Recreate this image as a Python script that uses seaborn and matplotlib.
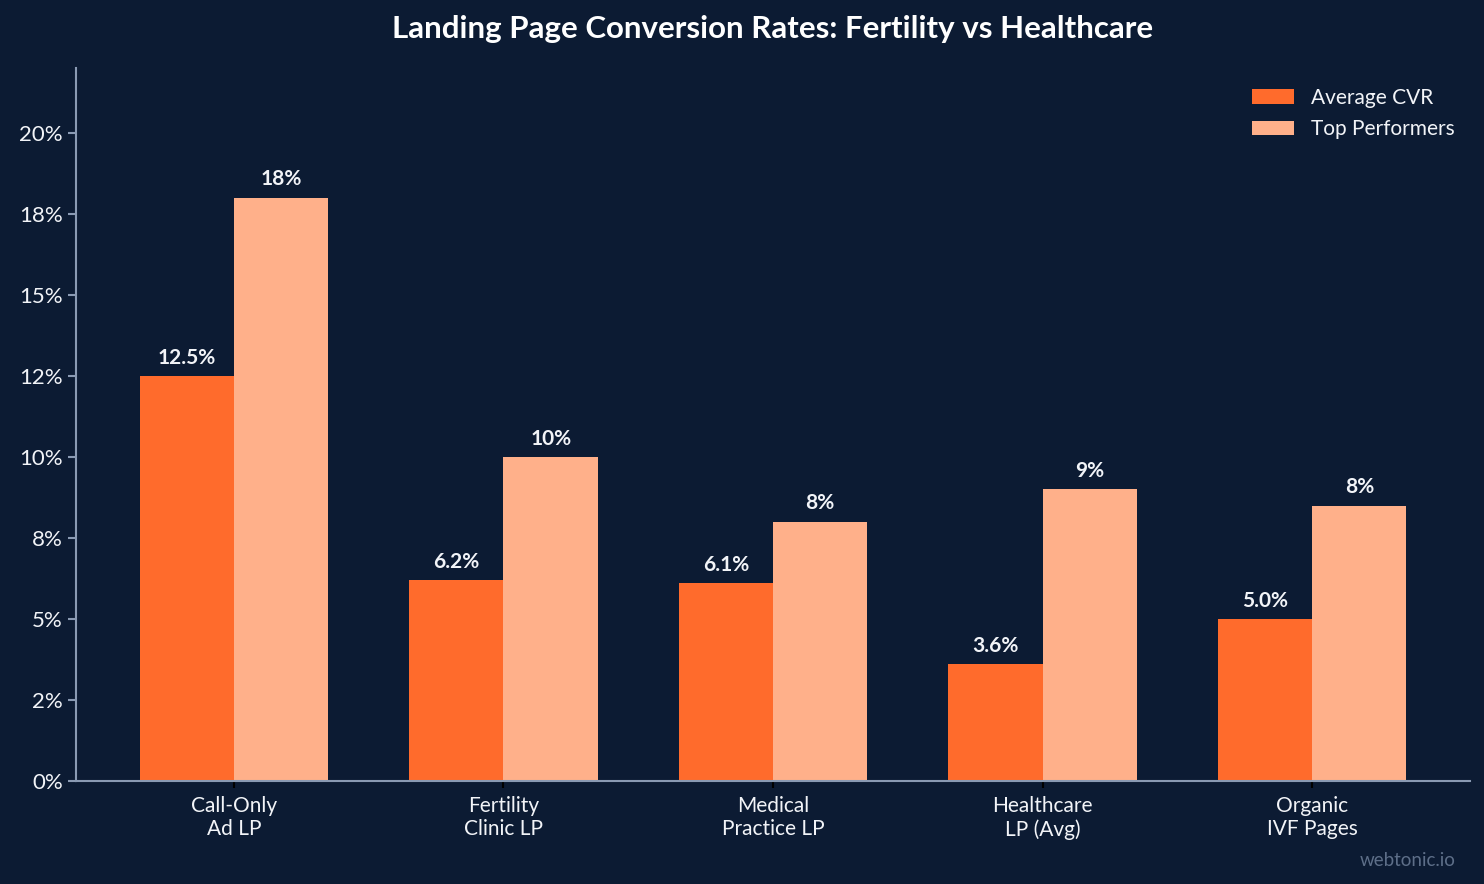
import numpy as np
import pandas as pd
import matplotlib
matplotlib.use("Agg")
import matplotlib.pyplot as plt
import seaborn as sns

# datos
categories = ["Call-Only\nAd LP", "Fertility\nClinic LP", "Medical\nPractice LP",
              "Healthcare\nLP (Avg)", "Organic\nIVF Pages"]
average_cvr = [12.5, 6.2, 6.1, 3.6, 5.0]
top_performers = [18.0, 10.0, 8.0, 9.0, 8.5]
series_names = ["Average CVR", "Top Performers"]

BG = "#0c1b33"
SPINE = "#8a9ab3"
TEXT = "#f2f4f8"
colors = ["#ff6b2c", "#ffb08a"]

df = pd.DataFrame({
    "category": categories * 2,
    "value": average_cvr + top_performers,
    "series": [series_names[0]] * len(categories) + [series_names[1]] * len(categories),
})

sns.set_style("white")
plt.rcParams["font.family"] = ["Lato", "DejaVu Sans"]

fig = plt.figure(figsize=(14.84, 8.84), dpi=100, facecolor=BG)
ax = fig.add_axes([0.0512, 0.1165, 0.9394, 0.8065])
ax.set_facecolor(BG)

sns.barplot(data=df, x="category", y="value", hue="series", palette=colors,
            width=0.7, saturation=1, ax=ax, errorbar=None, linewidth=0)

# etiquetas sobre las barras
fmts = ["{:.1f}%", "{:.0f}%"]
for cont, fmt in zip(ax.containers, fmts):
    ax.bar_label(cont, labels=[fmt.format(v) for v in cont.datavalues],
                 padding=6, color=TEXT, fontsize=15, fontweight="bold")

ax.set_xlim(-0.586, len(categories) - 1 + 0.586)
ax.set_ylim(0, 22)
yt = np.arange(0, 20.1, 2.5)
ax.set_yticks(yt)
ax.set_yticklabels(["{:.0f}%".format(t) for t in yt])
ax.set_xlabel("")
ax.set_ylabel("")

for s in ["top", "right"]:
    ax.spines[s].set_visible(False)
for s in ["left", "bottom"]:
    ax.spines[s].set_color(SPINE)
    ax.spines[s].set_linewidth(1.5)

ax.tick_params(axis="y", colors=SPINE, labelcolor=TEXT, labelsize=16, length=6, width=1.5, left=True)
ax.tick_params(axis="x", colors="#000000", labelcolor=TEXT, labelsize=15, length=5, width=1.5,
               bottom=True, pad=6)

leg = ax.legend(loc="upper right", bbox_to_anchor=(1.0, 0.994), frameon=False, fontsize=15,
                labelcolor=TEXT, handlelength=2.0, handleheight=0.7, labelspacing=0.55,
                borderaxespad=0.35)

ax.set_title("Landing Page Conversion Rates: Fertility vs Healthcare",
             color="white", fontsize=22.5, fontweight="bold", pad=22)

fig.text(0.981, 0.027, "webtonic.io", color="#5d6e88", fontsize=13.5, ha="right", va="center")

plt.savefig("out.png", dpi=100, facecolor=BG)
